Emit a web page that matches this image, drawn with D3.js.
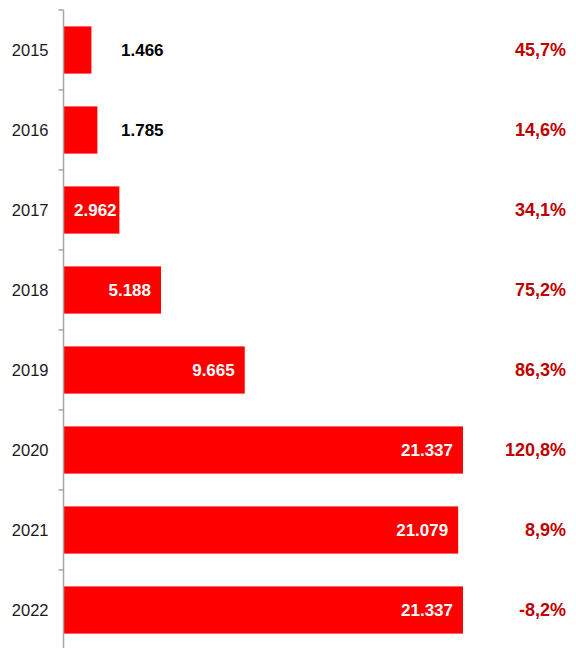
<!DOCTYPE html>
<html>
<head>
<meta charset="utf-8">
<script src="https://cdn.jsdelivr.net/npm/d3@7"></script>
<style>
  html, body { margin: 0; padding: 0; background: #fff; }
  svg { display: block; font-family: "Century Gothic", "Liberation Sans", Arial, sans-serif; }
</style>
</head>
<body>
<svg id="chart" width="576" height="648"></svg>
<script>
// Yearly totals and year-over-year growth (%)
const years = ["2015", "2016", "2017", "2018", "2019", "2020", "2021", "2022"];
const totals = [1466, 1785, 2962, 5188, 9665, 21337, 21079, 21337];
const growth = [45.7, 14.6, 34.1, 75.2, 86.3, 120.8, 8.9, -8.2];

const W = 576, H = 648;
const svg = d3.select("#chart");

const y = d3.scaleBand()
  .domain(years)
  .range([10, 650])
  .paddingInner(0.41)
  .paddingOuter(0.205);

const x = d3.scaleLinear()
  .domain([0, 25000])
  .range([64, 531.5]);

const locale = d3.formatLocale({
  decimal: ",", thousands: ".", grouping: [3], currency: ["", "€"], minus: "-"
});
const fmtVal = locale.format(",d");
const fmtPct = locale.format(".1f");

// bars
svg.append("g").selectAll("rect")
  .data(years)
  .join("rect")
  .attr("x", x(0))
  .attr("y", d => y(d))
  .attr("width", (d, i) => x(totals[i]) - x(0))
  .attr("height", y.bandwidth())
  .attr("fill", "#ff0000");

// category axis
const axis = svg.append("g").attr("transform", `translate(${x(0) - 0.5},0)`);
axis.append("line")
  .attr("x1", 0).attr("x2", 0)
  .attr("y1", 10).attr("y2", H)
  .attr("stroke", "#a6a6a6").attr("stroke-width", 1.5);
const step = y.step();
axis.selectAll("line.tick")
  .data(d3.range(years.length))
  .join("line")
  .attr("class", "tick")
  .attr("x1", -5).attr("x2", 0)
  .attr("y1", i => y(years[i]) - y.paddingOuter() * step)
  .attr("y2", i => y(years[i]) - y.paddingOuter() * step)
  .attr("stroke", "#a6a6a6").attr("stroke-width", 1.5);

axis.selectAll("text")
  .data(years)
  .join("text")
  .attr("x", -15)
  .attr("y", d => y(d) + y.bandwidth() / 2)
  .attr("dy", "0.36em")
  .attr("text-anchor", "end")
  .attr("font-size", 16.5)
  .attr("fill", "#1a1a1a")
  .text(d => d);

// value labels: inside the bar when it fits, otherwise beside it
const valG = svg.append("g")
  .attr("font-size", 17)
  .attr("font-weight", "bold");
years.forEach((yr, i) => {
  const v = totals[i];
  const cy = y(yr) + y.bandwidth() / 2;
  const t = valG.append("text")
    .attr("y", cy)
    .attr("dy", "0.36em")
    .text(fmtVal(v));
  const tw = t.node().getComputedTextLength();
  const barW = x(v) - x(0);
  if (barW >= tw + 10) {
    const endX = Math.max(x(v) - 10, x(0) + 10 + tw);
    t.attr("x", endX).attr("text-anchor", "end").attr("fill", "#ffffff");
  } else {
    t.attr("x", x(0) + 57).attr("text-anchor", "start").attr("fill", "#000000");
  }
});

// growth labels
svg.append("g")
  .attr("font-size", 18)
  .attr("font-weight", "bold")
  .attr("fill", "#c00000")
  .selectAll("text")
  .data(years)
  .join("text")
  .attr("x", 566)
  .attr("y", d => y(d) + y.bandwidth() / 2)
  .attr("dy", "0.36em")
  .attr("text-anchor", "end")
  .text((d, i) => fmtPct(growth[i]) + "%");
</script>
</body>
</html>
